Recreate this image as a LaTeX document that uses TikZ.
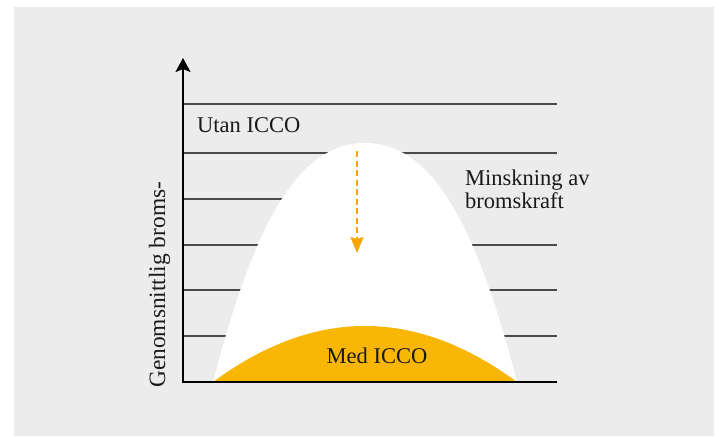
\documentclass[tikz,border=0pt]{standalone}
\usepackage{fontspec}
\setmainfont{Liberation Serif}
\usetikzlibrary{arrows.meta}
\definecolor{bgc}{HTML}{ECECEC}
\definecolor{gridc}{HTML}{4A4A4A}
\definecolor{yel}{HTML}{F9B605}
\definecolor{org}{HTML}{F7A600}
\definecolor{txt}{HTML}{1A1A1A}
\tikzset{
  gridline/.style={draw=gridc, line width=1.3pt},
  axisline/.style={draw=black, line width=2pt},
  lbl/.style={font=\fontsize{22.5}{22.5}\selectfont, text=txt, inner sep=0pt},
}
\begin{document}
\begin{tikzpicture}[x=1pt,y=-1pt]
\useasboundingbox (0,0) rectangle (719,436);
\fill[white] (0,0) rectangle (719,436);
\fill[bgc] (14,7) rectangle (714,436);
% grid lines
\foreach \yy [count=\i] in {104,153,199,245,290,336}{
  \coordinate (gl\i) at (183,\yy);
  \coordinate (gr\i) at (557,\yy);
  \draw[gridline] (gl\i) -- (gr\i);
}
% label on the right (covers part of a grid line)
\node[lbl, anchor=base west, align=left, fill=bgc, inner xsep=20pt, inner ysep=2pt, xshift=-20pt] (mink) at (465,208) {Minskning av\\bromskraft};
% white curve
\fill[white] (213,382) .. controls (252,232) and (295,143) .. (365,143)
  .. controls (435,143) and (478,232) .. (517,382) -- cycle;
% yellow curve
\fill[yel] (213,382) .. controls (314.3,307.3) and (415.7,307.3) .. (517,382) -- cycle;
% axes
\coordinate (origin) at (183,383);
\coordinate (ytop) at (183,58);
\coordinate (xend) at (557,382);
\draw[axisline] (183,382) -- (xend);
\draw[axisline, -{Stealth[length=14pt,width=15pt,inset=3pt]}] (origin) -- (ytop);
% dashed arrow
\coordinate (da) at (357,151);
\coordinate (db) at (357,253);
\draw[org, line width=2pt, dash pattern=on 6pt off 3.5pt, -{Stealth[length=16pt,width=13pt,inset=2pt]}] (da) -- (db);
% labels
\node[lbl, anchor=base west] (utan) at (197,132) {Utan ICCO};
\node[lbl, anchor=base] (med) at (377,363) {Med ICCO};
\node[lbl, font=\fontsize{23.4}{24}\selectfont, anchor=base west, rotate=90] (ylab) at (165,388) {Genomsnittlig broms-};
\end{tikzpicture}
\end{document}
